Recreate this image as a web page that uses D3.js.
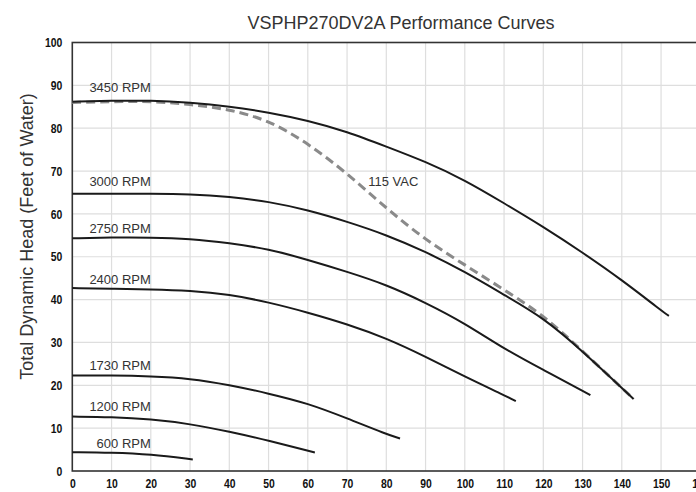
<!DOCTYPE html>
<html>
<head>
<meta charset="utf-8">
<script src="https://cdn.jsdelivr.net/npm/d3@7"></script>
<style>
  body { margin: 0; background: #fff; }
  svg { display: block; font-family: "Liberation Sans", Arial, sans-serif; }
  .tick-lbl { font-family: "Liberation Sans", Arial, sans-serif; font-weight: bold; font-size: 13px; fill: #111; }
</style>
</head>
<body>
<svg width="696" height="492"></svg>
<script>
// flow (GPM) and head (feet)
var rpm3450Flow = [0, 10, 20, 30, 40, 50, 60, 70, 80, 90, 100, 110, 120, 130, 140, 150, 152];
var rpm3450Head = [86.2, 86.4, 86.5, 86.0, 85.1, 83.7, 81.8, 79.2, 75.7, 72.2, 67.9, 62.5, 57.0, 51.0, 44.6, 37.5, 36.2];

var vac115Flow = [0, 10, 20, 30, 40, 50, 60, 70, 80, 90, 100, 110, 120, 130, 143];
var vac115Head = [86.0, 86.2, 86.3, 85.6, 84.4, 81.9, 76.5, 69.5, 61.3, 53.9, 48.1, 42.3, 36.4, 28.0, 16.8];

var rpm3000Flow = [0, 10, 20, 30, 40, 50, 60, 70, 80, 90, 100, 110, 120, 130, 143];
var rpm3000Head = [64.7, 64.7, 64.7, 64.6, 64.0, 62.9, 60.9, 58.2, 55.1, 51.2, 46.5, 41.1, 35.8, 28.0, 16.8];

var rpm2750Flow = [0, 10, 20, 30, 40, 50, 60, 70, 80, 90, 100, 110, 120, 132];
var rpm2750Head = [54.3, 54.5, 54.5, 54.2, 53.2, 51.8, 49.3, 46.5, 43.5, 39.3, 34.5, 28.5, 23.6, 17.7];

var rpm2400Flow = [0, 10, 20, 30, 40, 50, 60, 70, 80, 90, 100, 110, 113];
var rpm2400Head = [42.7, 42.5, 42.4, 42.1, 41.2, 39.4, 37.0, 34.3, 31.0, 26.7, 22.0, 17.7, 16.3];

var rpm1730Flow = [0, 10, 20, 30, 40, 50, 60, 70, 80, 83.5];
var rpm1730Head = [22.3, 22.3, 22.1, 21.6, 20.1, 18.1, 15.8, 12.3, 8.6, 7.6];

var rpm1200Flow = [0, 10, 20, 30, 40, 50, 61.8];
var rpm1200Head = [12.7, 12.6, 12.1, 11.0, 9.2, 7.1, 4.3];

var rpm600Flow = [0, 10, 20, 30.7];
var rpm600Head = [4.4, 4.3, 3.9, 2.7];

var rpmLabels = ['3450 RPM', '3000 RPM', '2750 RPM', '2400 RPM', '1730 RPM', '1200 RPM', '600 RPM'];
var rpmLabelHead = [88.5, 66.5, 55.5, 43.7, 23.6, 14.0, 5.4];
var vacLabel = '115 VAC';

var xTicks = d3.range(0, 161, 10);
var yTicks = d3.range(0, 101, 10);

var svg = d3.select('svg'),
    margin = {top: 42.5, left: 72.3},
    width = 628,
    height = 428.5;

var x = d3.scaleLinear().domain([0, 160]).range([0, width]);
var y = d3.scaleLinear().domain([0, 100]).range([height, 0]);

var g = svg.append('g')
    .attr('transform', 'translate(' + margin.left + ',' + margin.top + ')');

// grid
g.append('g').selectAll('line')
    .data(xTicks.slice(1))
  .enter().append('line')
    .attr('x1', function(d) { return x(d); })
    .attr('x2', function(d) { return x(d); })
    .attr('y1', 0).attr('y2', height)
    .attr('stroke', '#dedede').attr('stroke-width', 1.2);

g.append('g').selectAll('line')
    .data(yTicks.slice(1, -1))
  .enter().append('line')
    .attr('x1', 0).attr('x2', width)
    .attr('y1', function(d) { return y(d); })
    .attr('y2', function(d) { return y(d); })
    .attr('stroke', '#dedede').attr('stroke-width', 1.2);

// frame
g.append('rect')
    .attr('width', width).attr('height', height)
    .attr('fill', 'none').attr('stroke', '#333').attr('stroke-width', 1.6);

// axes - labels squeezed horizontally to mimic the narrow bold face
var squeeze = 0.8;
var yAxis = g.append('g')
    .call(d3.axisLeft(y).tickValues(yTicks).tickSize(0).tickPadding(10));
yAxis.selectAll('text')
    .attr('x', -10 / squeeze)
    .attr('transform', 'scale(' + squeeze + ',1)');
var xAxis = g.append('g')
    .attr('transform', 'translate(0,' + height + ')')
    .call(d3.axisBottom(x).tickValues(xTicks).tickSize(0).tickPadding(8));
xAxis.selectAll('text')
    .attr('transform', 'scale(' + squeeze + ',1)');
[yAxis, xAxis].forEach(function(a) {
  a.select('.domain').remove();
  a.selectAll('text').attr('class', 'tick-lbl').attr('fill', null);
});

var line = d3.line()
    .x(function(d) { return x(d[0]); })
    .y(function(d) { return y(d[1]); })
    .curve(d3.curveBasis);

function pts(f, h) { return f.map(function(v, i) { return [v, h[i]]; }); }

var solids = [
  pts(rpm3450Flow, rpm3450Head),
  pts(rpm3000Flow, rpm3000Head),
  pts(rpm2750Flow, rpm2750Head),
  pts(rpm2400Flow, rpm2400Head),
  pts(rpm1730Flow, rpm1730Head),
  pts(rpm1200Flow, rpm1200Head),
  pts(rpm600Flow, rpm600Head)
];

g.append('path')
    .datum(pts(vac115Flow, vac115Head))
    .attr('d', line)
    .attr('fill', 'none')
    .attr('stroke', '#8a8a8a')
    .attr('stroke-width', 3)
    .attr('stroke-dasharray', '9,5');

g.selectAll('path.rpm')
    .data(solids)
  .enter().append('path')
    .attr('class', 'rpm')
    .attr('d', line)
    .attr('fill', 'none')
    .attr('stroke', '#1a1a1a')
    .attr('stroke-width', 2);

g.selectAll('text.rpm-lbl')
    .data(rpmLabels)
  .enter().append('text')
    .attr('class', 'rpm-lbl')
    .attr('x', x(20))
    .attr('y', function(d, i) { return y(rpmLabelHead[i]); })
    .attr('text-anchor', 'end')
    .attr('font-size', 13)
    .attr('fill', '#333')
    .text(function(d) { return d; });

g.append('text')
    .attr('x', x(75.4))
    .attr('y', y(66.5))
    .attr('font-size', 13)
    .attr('fill', '#333')
    .text(vacLabel);

// title and y label
svg.append('text')
    .attr('x', 401)
    .attr('y', 28.5)
    .attr('text-anchor', 'middle')
    .attr('font-size', 18)
    .attr('fill', '#333')
    .text('VSPHP270DV2A Performance Curves');

svg.append('text')
    .attr('transform', 'translate(33,236.5) rotate(-90)')
    .attr('text-anchor', 'middle')
    .attr('font-size', 18)
    .attr('fill', '#333')
    .text('Total Dynamic Head (Feet of Water)');
</script>
</body>
</html>
